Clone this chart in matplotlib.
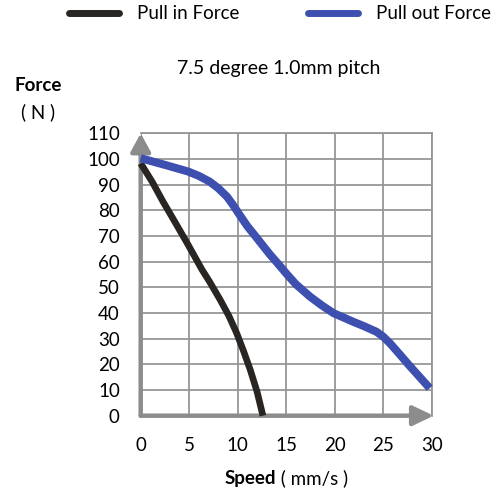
import matplotlib
matplotlib.use("Agg")
import matplotlib.pyplot as plt
from matplotlib.lines import Line2D

plt.rcParams['font.family'] = ['Lato', 'DejaVu Sans']

# values
speed_in = [0, 1.2, 2.3, 3.6, 4.9, 6.3, 7.1, 8.2, 9.1, 9.9, 10.6, 11.3, 12.0, 12.6]
force_in = [98.3, 91, 83.4, 75, 66.5, 57, 52.2, 45.1, 38.8, 32.1, 25.2, 17.8, 9.3, 0]

speed_out = [0, 2.5, 4.9, 6.0, 7.1, 8.0, 8.9, 9.5, 10.2, 11.0, 12.0, 13.3, 14.2, 15.05,
             16.0, 17.45, 18.7, 19.9, 21.0, 21.9, 23.0, 24.3, 25.0, 25.7, 26.7, 27.8, 28.8, 29.8]
force_out = [100.3, 97.7, 95.1, 93.4, 91.2, 88.6, 85.3, 82.2, 78.2, 73.8, 69.1, 62.9, 59.0, 55.2,
             51.2, 46.4, 42.9, 39.9, 38.1, 36.6, 34.9, 32.7, 30.8, 28.2, 23.9, 19.1, 14.9, 10.7]

x_ticks = [0, 5, 10, 15, 20, 25, 30]
y_ticks = [0, 10, 20, 30, 40, 50, 60, 70, 80, 90, 100, 110]

blue = '#3D50B0'
dark = '#282522'
grid_gray = '#969696'
axis_gray = '#8C8C8C'

fig = plt.figure(figsize=(5, 4.93), dpi=100)
ax = fig.add_axes([0.2814, 0.1568, 0.582, 0.5728])
ax.set_xlim(0, 30)
ax.set_ylim(0, 110)
ax.set_xticks(x_ticks)
ax.set_yticks(y_ticks)
ax.grid(True, color=grid_gray, linewidth=1.3)
ax.set_axisbelow(True)
for side in ['top', 'right']:
    ax.spines[side].set_color(grid_gray)
    ax.spines[side].set_linewidth(1.3)
for side in ['left', 'bottom']:
    ax.spines[side].set_visible(False)
ax.tick_params(axis='y', length=0, labelsize=13.5, pad=15)
ax.tick_params(axis='x', length=0, labelsize=13.5, pad=15)

# grey arrow axes
ax.annotate('', xy=(0, 110), xytext=(0, 0), annotation_clip=False,
            arrowprops=dict(arrowstyle='-|>,head_length=1.1,head_width=0.6',
                            color=axis_gray, lw=3.2, shrinkA=0, shrinkB=0))
ax.annotate('', xy=(30.2, 0), xytext=(0, 0), annotation_clip=False,
            arrowprops=dict(arrowstyle='-|>,head_length=1.25,head_width=0.6',
                            color=axis_gray, lw=3.2, shrinkA=0, shrinkB=0))

ax.plot(speed_in, force_in, color=dark, lw=4.8, solid_capstyle='butt',
        solid_joinstyle='round', clip_on=False, zorder=3)
ax.plot(speed_out, force_out, color=blue, lw=5.8, solid_capstyle='butt',
        solid_joinstyle='round', clip_on=False, zorder=4)

fig.text(0.557, 0.862, '7.5 degree 1.0mm pitch', ha='center', va='center', fontsize=14)
fig.text(0.077, 0.826, 'Force', ha='center', va='center', fontsize=13.5, fontweight='bold')
fig.text(0.076, 0.773, '( N )', ha='center', va='center', fontsize=13.5)
fig.text(0.552, 0.0304, ' ( mm/s )', ha='left', va='center', fontsize=13.5)
fig.text(0.552, 0.0304, 'Speed', ha='right', va='center', fontsize=13.5, fontweight='bold')

handles = [Line2D([], [], color=dark, lw=5, solid_capstyle='round'),
           Line2D([], [], color=blue, lw=5, solid_capstyle='round')]
fig.legend(handles, ['Pull in Force', 'Pull out Force'], loc='center',
           bbox_to_anchor=(0.56, 0.972), ncol=2, frameon=False, fontsize=13.5,
           handlelength=2.67, handletextpad=0.95, columnspacing=3.7)

fig.savefig('out.png', dpi=100)
